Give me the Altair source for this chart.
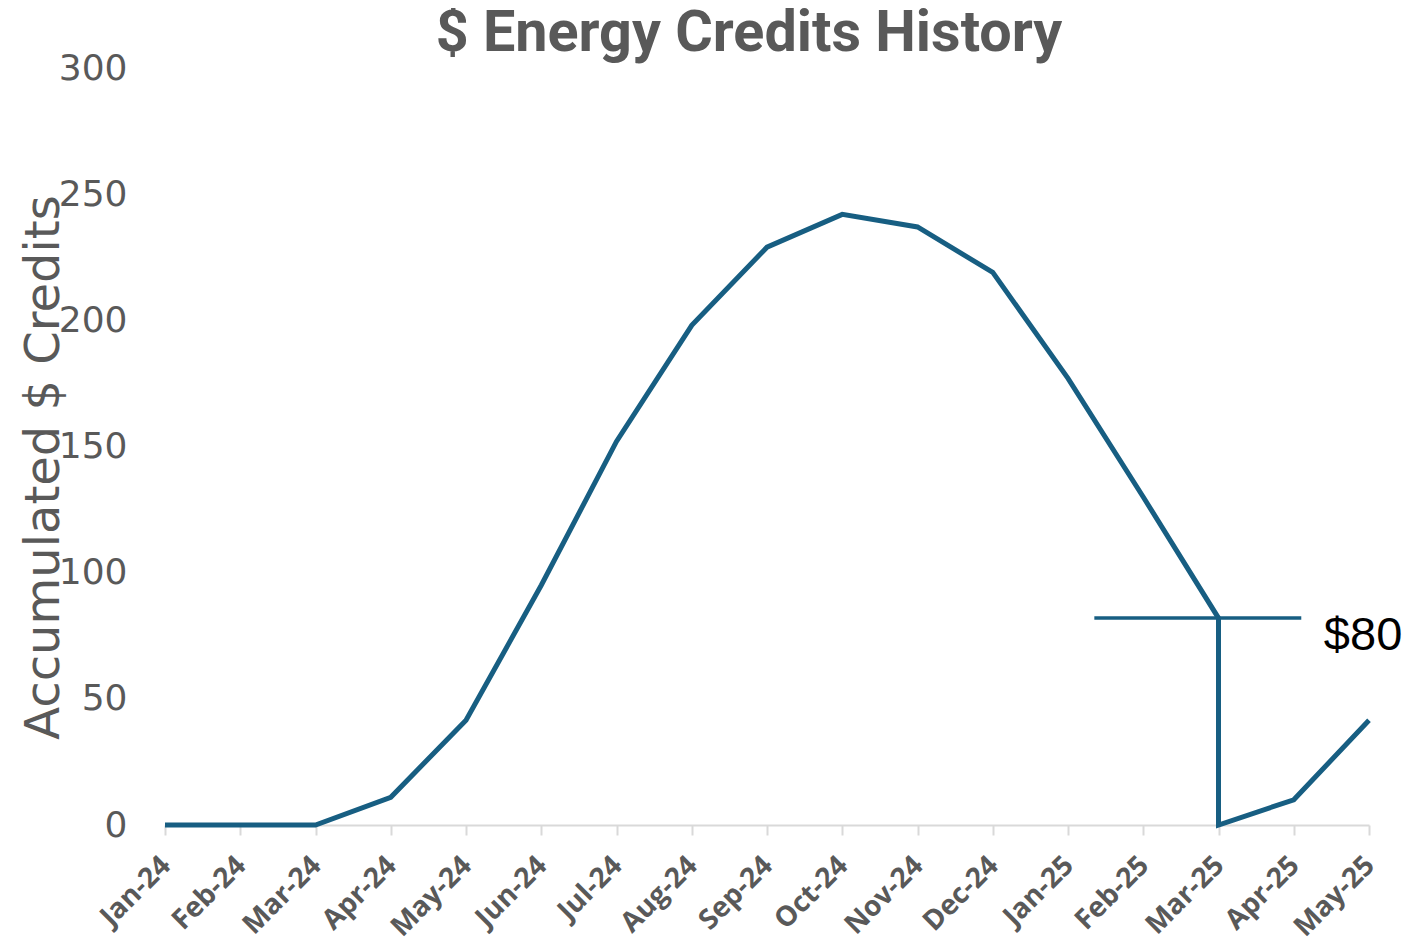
import altair as alt
import pandas as pd

months = ["Jan-24", "Feb-24", "Mar-24", "Apr-24", "May-24", "Jun-24", "Jul-24",
          "Aug-24", "Sep-24", "Oct-24", "Nov-24", "Dec-24", "Jan-25", "Feb-25",
          "Mar-25", "Apr-25", "May-25"]

# points of the line (Mar-25 appears twice: value before and after the reset)
point_months = ["Jan-24", "Feb-24", "Mar-24", "Apr-24", "May-24", "Jun-24", "Jul-24",
                "Aug-24", "Sep-24", "Oct-24", "Nov-24", "Dec-24", "Jan-25", "Feb-25",
                "Mar-25", "Mar-25", "Apr-25", "May-25"]
credits = [0, 0, 0, 11, 41.5, 95, 152, 198, 229, 242, 237, 219, 177, 130, 82, 0, 10, 41.5]

# annotation marker line and label
marker_value = 82
marker_start = 12.35   # position in month index units
marker_end = 15.1
label_text = "$80"
label_pos = 15.4
label_value = 75

y_ticks = [0, 50, 100, 150, 200, 250, 300]

df = pd.DataFrame({
    "idx": [months.index(m) for m in point_months],
    "order": list(range(len(point_months))),
    "credits": credits,
})
rule_df = pd.DataFrame({"x": [marker_start], "x2": [marker_end], "y": [marker_value]})
text_df = pd.DataFrame({"x": [label_pos], "y": [label_value], "t": [label_text]})

label_array = "[" + ",".join(f"'{m}'" for m in months) + "]"

x_scale = alt.Scale(domain=[0, len(months) - 1], nice=False, zero=False)
y_scale = alt.Scale(domain=[0, 300], nice=False)

line = alt.Chart(df).mark_line(color="#175e82", strokeWidth=5, strokeJoin="miter").encode(
    x=alt.X("idx:Q", scale=x_scale,
            axis=alt.Axis(values=list(range(len(months))), labelExpr=f"{label_array}[datum.value]",
                          title=None, grid=False, labelAngle=-45, labelAlign="right",
                          labelBaseline="top", labelFont="Open Sans", labelFontWeight="bold",
                          labelFontSize=28, labelColor="#595959", labelPadding=16,
                          labelOffset=-9,
                          tickSize=10, tickColor="#d9d9d9", tickWidth=2,
                          domainColor="#d9d9d9", domainWidth=2, labelOverlap=False,
                          labelBound=False, labelFlush=False)),
    y=alt.Y("credits:Q", scale=y_scale,
            axis=alt.Axis(values=y_ticks, title="Accumulated $ Credits", grid=False,
                          domain=False, ticks=False, labelFont="DejaVu Sans",
                          labelFontSize=36, labelColor="#595959", labelPadding=38,
                          titleFont="DejaVu Sans", titleFontSize=48, titleFontWeight="normal",
                          titleColor="#595959", titleAngle=270, titleAlign="center",
                          titleBaseline="alphabetic", titleX=-107, titleY=399)),
    order="order:Q",
)

rule = alt.Chart(rule_df).mark_rule(color="#175e82", strokeWidth=3.5).encode(
    x=alt.X("x:Q", scale=x_scale), x2="x2:Q", y=alt.Y("y:Q", scale=y_scale)
)

text = alt.Chart(text_df).mark_text(align="left", baseline="middle", font="Liberation Sans",
                                     fontSize=47, color="#000000").encode(
    x=alt.X("x:Q", scale=x_scale), y=alt.Y("y:Q", scale=y_scale), text="t:N"
)

chart = alt.layer(line, rule, text).properties(
    width=1204, height=757,
    autosize=alt.AutoSizeParams(type="none"),
    padding={"left": 157, "top": 60, "right": 50, "bottom": 118},
    title=alt.TitleParams("$ Energy Credits History",
                          font="Roboto",
                          fontSize=57.5, fontWeight="bold", color="#595959",
                          anchor="middle", dx=-18, dy=19, offset=6),
).configure_view(stroke=None)

chart.save("out.html", embed_options={"renderer": "svg", "actions": False})
